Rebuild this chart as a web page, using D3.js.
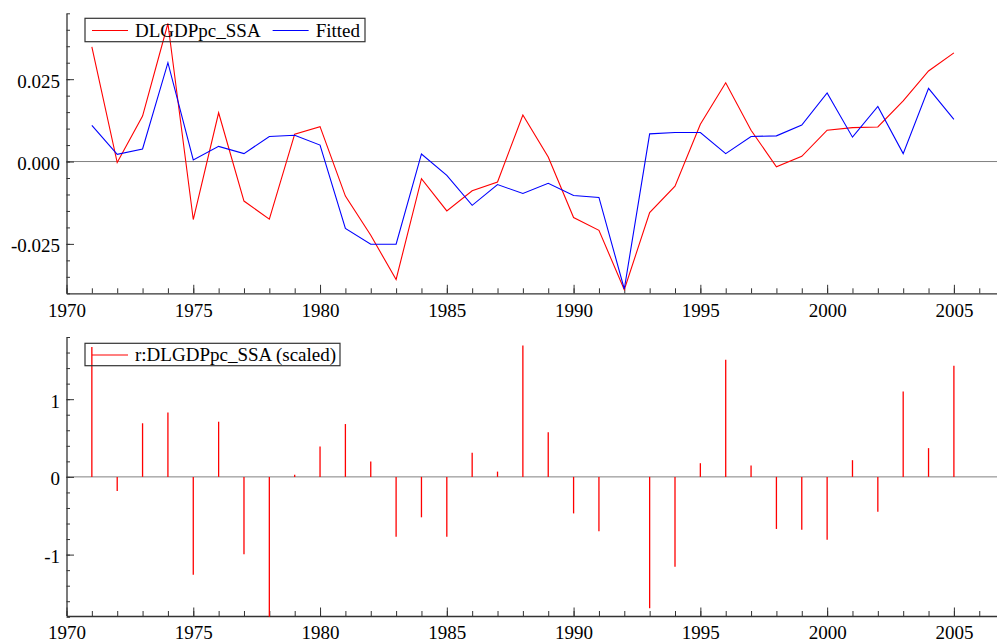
<!DOCTYPE html>
<html>
<head>
<meta charset="utf-8">
<script src="https://cdn.jsdelivr.net/npm/d3@7"></script>
<style>
  html, body { margin: 0; padding: 0; background: #fff; }
  svg { display: block; }
  text { font-family: "Liberation Serif", "Times New Roman", serif; }
</style>
</head>
<body>
<svg id="chart" width="997" height="643"></svg>
<script>
// ---------------- data ----------------
const years = [1971,1972,1973,1974,1975,1976,1977,1978,1979,1980,
               1981,1982,1983,1984,1985,1986,1987,1988,1989,1990,
               1991,1992,1993,1994,1995,1996,1997,1998,1999,2000,
               2001,2002,2003,2004,2005];
const dlgdp = [0.0348,-0.0003,0.0138,0.0419,-0.0176,0.0148,-0.0120,-0.0175,0.0083,0.0106,
               -0.0105,-0.0224,-0.0358,-0.0052,-0.0150,-0.0089,-0.0062,0.0141,0.0014,-0.0170,
               -0.0209,-0.0389,-0.0155,-0.0075,0.0113,0.0239,0.0095,-0.0016,0.0016,0.0095,
               0.0103,0.0105,0.0184,0.0275,0.0330];
const fitted = [0.0110,0.0022,0.0038,0.0300,0.0005,0.0046,0.0024,0.0076,0.0080,0.0050,
                -0.0203,-0.0251,-0.0251,0.0023,-0.0042,-0.0133,-0.0070,-0.0097,-0.0066,-0.0103,
                -0.0109,-0.0387,0.0084,0.0088,0.0088,0.0024,0.0076,0.0078,0.0111,0.0208,
                0.0074,0.0167,0.0024,0.0222,0.0128];
const resid = [1.67,-0.18,0.69,0.83,-1.26,0.71,-0.995,-1.80,0.026,0.39,
               0.68,0.197,-0.77,-0.52,-0.77,0.31,0.068,1.69,0.575,-0.47,
               -0.70,0.0,-1.69,-1.155,0.176,1.506,0.146,-0.67,-0.68,-0.81,
               0.215,-0.45,1.10,0.37,1.43];
const xMajorTicks = [1970,1975,1980,1985,1990,1995,2000,2005];
const topYTicks = [-0.025, 0, 0.025];
const topYLabels = ["-0.025","0.000","0.025"];
const botYTicks = [-1, 0, 1];
const botYLabels = ["-1","0","1"];
const legendTop = ["DLGDPpc_SSA", "Fitted"];
const legendBottom = ["r:DLGDPpc_SSA (scaled)"];

// ---------------- layout ----------------
const svg = d3.select("#chart");
const FONT = 19;
const AX = "#333";
const left = 66.5, right = 997;

const x = d3.scaleLinear().domain([1970, 2006.7]).range([left, right]);
const yTop = d3.scaleLinear().domain([-0.040, 0.045]).range([293.3, 13.3]);
const yBot = d3.scaleLinear().domain([-1.79, 1.80]).range([616, 337]);

const minorYears = d3.range(1970, 2007);
const topMinor = d3.range(-0.040, 0.0451, 0.005).map(v => +v.toFixed(3));
const botMinor = d3.range(-1.8, 1.81, 0.2).map(v => +v.toFixed(1));

function styleAxis(g) {
  g.selectAll("path.domain").attr("stroke", AX).attr("stroke-width", 1.3);
  g.selectAll(".tick line").attr("stroke", AX).attr("stroke-width", 1);
  g.selectAll(".tick text").attr("fill", "#000").style("font-size", FONT + "px")
    .style("font-family", '"Liberation Serif", "Times New Roman", serif');
}

function panel(y, yMajor, yLabels, yMinor, yTopPx, yBotPx) {
  // zero line
  svg.append("line")
    .attr("x1", left).attr("x2", right)
    .attr("y1", y(0)).attr("y2", y(0))
    .attr("stroke", "#808080").attr("stroke-width", 1);

  // y minor
  const gyMinor = svg.append("g").attr("transform", `translate(${left},0)`)
    .call(d3.axisLeft(y).tickValues(yMinor).tickFormat("").tickSizeInner(-3.5).tickSizeOuter(0));
  gyMinor.select("path.domain").remove();
  styleAxis(gyMinor);
  // y major
  const gy = svg.append("g").attr("transform", `translate(${left},0)`)
    .call(d3.axisLeft(y).tickValues(yMajor).tickFormat((d, i) => yLabels[i])
      .tickSizeInner(-7.5).tickSizeOuter(0).tickPadding(6.5));
  gy.selectAll(".tick text").attr("dy", "0.42em");
  styleAxis(gy);

  // x minor
  const gxMinor = svg.append("g").attr("transform", `translate(0,${yBotPx})`)
    .call(d3.axisBottom(x).tickValues(minorYears).tickFormat("").tickSizeInner(-5).tickSizeOuter(0));
  gxMinor.select("path.domain").remove();
  styleAxis(gxMinor);
  // x major
  const gx = svg.append("g").attr("transform", `translate(0,${yBotPx})`)
    .call(d3.axisBottom(x).tickValues(xMajorTicks).tickFormat(d3.format("d"))
      .tickSizeInner(-8.5).tickSizeOuter(0).tickPadding(10));
  styleAxis(gx);
}

panel(yTop, topYTicks, topYLabels, topMinor, 13.3, 293.3);
panel(yBot, botYTicks, botYLabels, botMinor, 337, 616);

// ---------------- top panel series ----------------
const lineTop = d3.line().x((d, i) => x(years[i])).y(d => yTop(d));
svg.append("path").datum(dlgdp).attr("d", lineTop)
  .attr("fill", "none").attr("stroke", "#ff0000").attr("stroke-width", 1.1);
svg.append("path").datum(fitted).attr("d", lineTop)
  .attr("fill", "none").attr("stroke", "#0000ff").attr("stroke-width", 1.1);

// ---------------- bottom panel residual spikes ----------------
svg.append("g").selectAll("line").data(resid).join("line")
  .attr("x1", (d, i) => x(years[i])).attr("x2", (d, i) => x(years[i]))
  .attr("y1", yBot(0)).attr("y2", d => yBot(d))
  .attr("stroke", "#ff0000").attr("stroke-width", 1.3);

// ---------------- legends ----------------
function legend(x0, y0, w, h, items, colors, widths) {
  const g = svg.append("g");
  g.append("rect").attr("x", x0).attr("y", y0).attr("width", w).attr("height", h)
    .attr("fill", "none").attr("stroke", AX).attr("stroke-width", 1.2);
  let cx = x0 + 7;
  items.forEach((t, i) => {
    g.append("line").attr("x1", cx).attr("x2", cx + 36)
      .attr("y1", y0 + h / 2 + 0.5).attr("y2", y0 + h / 2 + 0.5)
      .attr("stroke", colors[i]).attr("stroke-width", 1.1);
    const txt = g.append("text").attr("x", cx + 43).attr("y", y0 + h - 4.5)
      .style("font-size", FONT + "px").attr("fill", "#000").text(t);
    cx = cx + 43 + txt.node().getComputedTextLength() + 12;
  });
}
legend(85, 18.3, 280, 23.4, legendTop, ["#ff0000", "#0000ff"]);
legend(85, 343.3, 255, 22.4, legendBottom, ["#ff0000"]);
</script>
</body>
</html>
